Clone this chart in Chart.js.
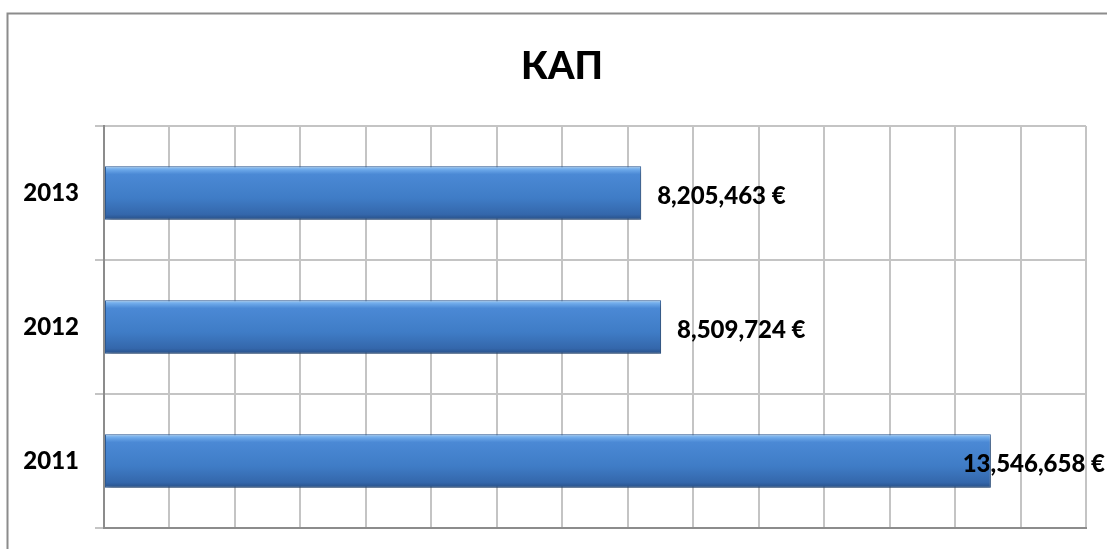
<!DOCTYPE html>
<html>
<head>
<meta charset="utf-8">
<script src="https://cdn.jsdelivr.net/npm/chart.js@4.4.0/dist/chart.umd.min.js"></script>
<style>
  html, body { margin: 0; padding: 0; background: #ffffff; }
  #wrap { position: relative; width: 1107px; height: 549px; overflow: hidden; }
  canvas { position: absolute; left: 0; top: 0; }
</style>
</head>
<body>
<div id="wrap"><canvas id="c" width="1107" height="549"></canvas></div>
<script>
const chartTitle = 'КАП';
const categories = ['2013', '2012', '2011'];
const values = [8205463, 8509724, 13546658];
const axisMax = 15000000;
const axisStep = 1000000;

function fmt(v) {
  return v.toString().replace(/\B(?=(\d{3})+(?!\d))/g, ',') + ' €';
}

const FONT = 'Lato, "Open Sans", sans-serif';

const framePlugin = {
  id: 'frame',
  beforeDraw(chart) {
    const ctx = chart.ctx;
    ctx.save();
    ctx.strokeStyle = '#8c8c8c';
    ctx.lineWidth = 2;
    ctx.beginPath();
    ctx.moveTo(7.5, 560);
    ctx.lineTo(7.5, 13.5);
    ctx.lineTo(1120, 13.5);
    ctx.stroke();
    ctx.restore();
  },
  afterDraw(chart) {
    const ctx = chart.ctx;
    ctx.save();
    ctx.font = '900 38px ' + FONT;
    ctx.fillStyle = '#000000';
    ctx.textAlign = 'center';
    ctx.textBaseline = 'middle';
    ctx.fillText(chartTitle, 562, 67);
    ctx.restore();
  }
};

const shadowPlugin = {
  id: 'barShadow',
  beforeDatasetsDraw(chart) {
    const ctx = chart.ctx;
    ctx.save();
    ctx.shadowColor = 'rgba(0,0,0,0.35)';
    ctx.shadowBlur = 6;
    ctx.shadowOffsetX = 2;
    ctx.shadowOffsetY = 3;
  },
  afterDatasetsDraw(chart) {
    chart.ctx.restore();
  }
};

const labelPlugin = {
  id: 'valueLabels',
  afterDatasetsDraw(chart) {
    const ctx = chart.ctx;
    const meta = chart.getDatasetMeta(0);
    ctx.save();
    ctx.font = '900 24px ' + FONT;
    ctx.fillStyle = '#000000';
    ctx.textBaseline = 'middle';
    ctx.textAlign = 'left';
    meta.data.forEach((el, i) => {
      const txt = fmt(chart.data.datasets[0].data[i]);
      const w = ctx.measureText(txt).width;
      let x = el.x + 16;
      if (x + w > chart.width - 2) x = chart.width - 2 - w;
      ctx.fillText(txt, x, el.y + 3);
    });
    ctx.restore();
  }
};

function barGradient(context) {
  const chart = context.chart;
  const y = chart.scales && chart.scales.y;
  if (!chart.chartArea || !y) return '#3f7cc6';
  const c = y.getPixelForValue(context.dataIndex);
  const h = (y.height / categories.length) * 0.4;
  const top = c - h / 2, bot = c + h / 2;
  const g = chart.ctx.createLinearGradient(0, top, 0, bot);
  g.addColorStop(0, '#9ccaf5');
  g.addColorStop(0.07, '#6aa6e8');
  g.addColorStop(0.15, '#4b89d5');
  g.addColorStop(0.6, '#3f7cc6');
  g.addColorStop(0.9, '#3467ab');
  g.addColorStop(1, '#274f86');
  return g;
}

new Chart(document.getElementById('c'), {
  type: 'bar',
  data: {
    labels: categories,
    datasets: [{
      data: values,
      backgroundColor: barGradient,
      borderColor: '#2f5f9c',
      borderWidth: 1,
      borderSkipped: false,
      barPercentage: 0.4,
      categoryPercentage: 1.0
    }]
  },
  options: {
    indexAxis: 'y',
    responsive: false,
    animation: false,
    devicePixelRatio: 1,
    layout: { padding: { left: 0, right: 21, top: 126, bottom: 21 } },
    plugins: {
      legend: { display: false },
      tooltip: { enabled: false },
      title: { display: false }
    },
    scales: {
      x: {
        min: 0,
        max: axisMax,
        ticks: { display: false, stepSize: axisStep },
        grid: { color: '#c4c4c4', lineWidth: 2, drawTicks: false },
        border: { display: true, color: '#8c8c8c', width: 2 },
        afterFit(scale) { scale.height = 0; scale.paddingLeft = 0; scale.paddingRight = 0; }
      },
      y: {
        ticks: {
          color: '#000000',
          font: { family: FONT, size: 24, weight: '900' },
          padding: 16
        },
        grid: { color: '#c4c4c4', lineWidth: 2, tickLength: 9, tickColor: '#c4c4c4' },
        border: { display: true, color: '#8c8c8c', width: 2 },
        afterFit(scale) { scale.width = 104; scale.paddingTop = 0; scale.paddingBottom = 0; }
      }
    }
  },
  plugins: [framePlugin, shadowPlugin, labelPlugin]
});
</script>
</body>
</html>
